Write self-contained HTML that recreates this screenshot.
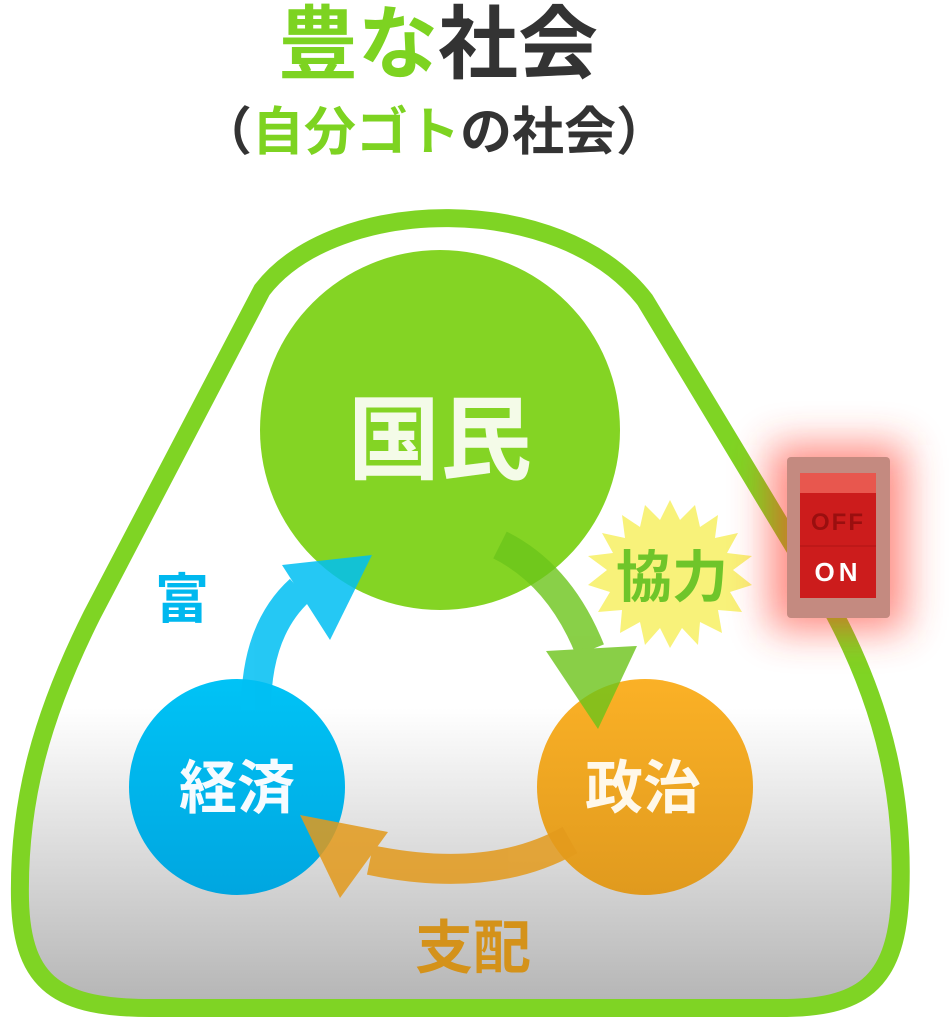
<!DOCTYPE html>
<html><head><meta charset="utf-8"><style>
html,body{margin:0;padding:0;background:#fff;}
svg{display:block;}
text{font-family:"Liberation Sans","Noto Sans CJK JP",sans-serif;font-weight:bold;}
</style></head><body>
<svg width="951" height="1024" viewBox="0 0 951 1024" xmlns="http://www.w3.org/2000/svg">
<defs>
<linearGradient id="bg" x1="0" y1="0" x2="0" y2="1">
<stop offset="0" stop-color="#fff"/><stop offset="0.62" stop-color="#fff"/><stop offset="1" stop-color="#b4b4b4"/>
</linearGradient>
<linearGradient id="org" x1="0" y1="0" x2="0" y2="1">
<stop offset="0" stop-color="#fbb126"/><stop offset="1" stop-color="#e09a1e"/>
</linearGradient>
<linearGradient id="blu" x1="0" y1="0" x2="0" y2="1">
<stop offset="0" stop-color="#00c3f6"/><stop offset="1" stop-color="#00a6e0"/>
</linearGradient>
<filter id="glow" x="-1" y="-1" width="3" height="3"><feGaussianBlur stdDeviation="20"/></filter>
</defs>

<text x="278" y="72" font-size="80" fill="#7dd321">豊な<tspan fill="#333">社会</tspan></text>
<text x="200" y="150" font-size="52" fill="#333">（<tspan fill="#7dd321">自分ゴト</tspan>の社会）</text>

<path d="M262,290 C335,195 560,190 645,300 L835,615 C885,710 905,800 900,900 C895,985 860,1008 780,1008 L150,1008 C60,1008 22,985 20,900 C18,800 42,715 92,615 Z" fill="url(#bg)" stroke="#7fd424" stroke-width="18" stroke-linejoin="round"/>

<circle cx="440" cy="430" r="180" fill="#84d424"/>
<circle cx="237" cy="787" r="108" fill="url(#blu)"/>
<circle cx="645" cy="787" r="108" fill="url(#org)"/>

<!-- blue arrow -->
<g opacity="0.85">
<path d="M256,710 Q256,630 300,590" fill="none" stroke="#00bff3" stroke-width="30"/>
<polygon points="282,565 372,555 330,640" fill="#00bff3"/>
</g>
<!-- green arrow -->
<g opacity="0.8">
<path d="M500,545 Q560,575 590,650" fill="none" stroke="#6cc41a" stroke-width="30"/>
<polygon points="546,651 637,646 598,729" fill="#6cc41a"/>
</g>
<!-- orange arrow -->
<g opacity="0.85">
<path d="M570,840 Q490,885 370,860" fill="none" stroke="#e39a1c" stroke-width="30"/>
<polygon points="300,815 388,832 340,898" fill="#e39a1c"/>
</g>

<text x="440" y="472" font-size="92" fill="#f4fbe8" text-anchor="middle">国民</text>
<text x="237" y="808" font-size="58" fill="#f6fbff" text-anchor="middle">経済</text>
<text x="643" y="808" font-size="58" fill="#fff8ea" text-anchor="middle">政治</text>
<text x="182" y="618" font-size="54" fill="#00b8ef" text-anchor="middle">富</text>
<text x="473" y="968" font-size="58" fill="#d4921a" text-anchor="middle">支配</text>

<!-- starburst -->
<polygon fill="#f8f27a" points="670,500 680,520 695,505 700,527 718,515 715,538 738,533 727,553 752,556 733,570 752,585 730,592 742,612 718,610 722,633 700,622 698,645 682,628 670,648 660,628 645,645 640,622 620,633 622,610 598,612 610,592 588,585 607,570 588,556 613,553 602,533 625,538 622,515 640,527 645,505 660,520"/>
<text x="672" y="597" font-size="56" fill="#6fc52a" text-anchor="middle">協力</text>

<!-- switch -->
<rect x="770" y="445" width="135" height="185" fill="#ff3a2a" opacity="0.6" filter="url(#glow)"/>
<rect x="787" y="457" width="103" height="161" rx="4" fill="#c48a80"/>
<rect x="800" y="473" width="76" height="125" fill="#cc1c1c"/>
<rect x="800" y="473" width="76" height="20" fill="#e8574e"/>
<line x1="800" y1="546" x2="876" y2="546" stroke="#b01515" stroke-width="1"/>
<text x="838" y="530" font-size="24" fill="#9a0f0f" text-anchor="middle" letter-spacing="2">OFF</text>
<text x="838" y="581" font-size="26" fill="#fff" text-anchor="middle" letter-spacing="4">ON</text>
</svg>
</body></html>
